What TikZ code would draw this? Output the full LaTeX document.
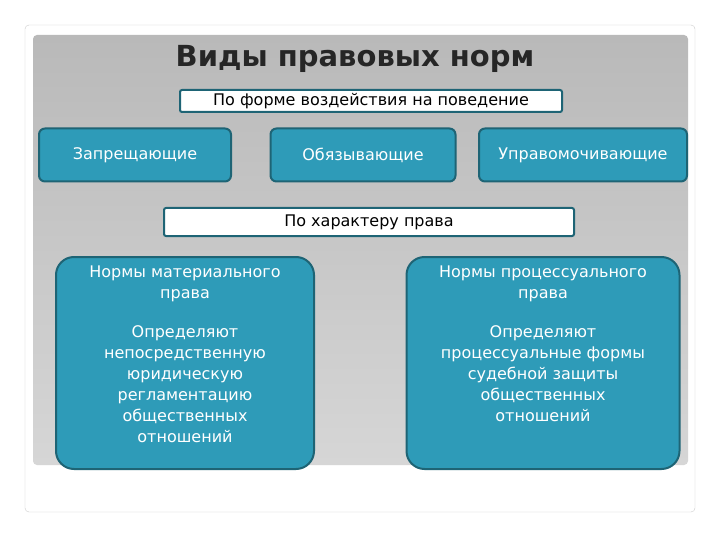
\documentclass[tikz,border=0pt]{standalone}
\usepackage{fontspec}
\setmainfont{DejaVu Sans}
\usetikzlibrary{positioning}
\definecolor{tealbox}{HTML}{2E9BB8}
\definecolor{tealedge}{HTML}{1E6475}
\definecolor{paneltop}{HTML}{B9B9B9}
\definecolor{panelbottom}{HTML}{D6D6D6}
\tikzset{
    kind/.style={draw=tealedge, line width=2pt, fill=tealbox, rounded corners=6pt,
        text=white, font=\fontsize{16}{19}\selectfont, align=center},
    heading/.style={draw=tealedge, line width=2pt, fill=white, rounded corners=2pt,
        font=\fontsize{16}{19}\selectfont},
    bigbox/.style={draw=tealedge, line width=2pt, fill=tealbox, rounded corners=18pt}
}
\begin{document}
\begin{tikzpicture}[x=1pt,y=-1pt]
    % Slide and panel
    \useasboundingbox (0,0) rectangle (720,540);
    \fill[white] (0,0) rectangle (720,540);
    \draw[black!20, rounded corners=4pt] (25,25) rectangle (695,512);
    \shade[top color=paneltop, bottom color=panelbottom, rounded corners=4pt] (33,35) rectangle (688,465);

    % Title
    \node (title) at (355,59) {\fontsize{29}{32}\selectfont\bfseries\color{black!85}Виды правовых норм};

    % By form of influence
    \node[heading, minimum width=382pt, minimum height=22pt, inner sep=1pt] (form) at (371,101) {По форме воздействия на поведение};
    \node[kind, minimum width=192pt, minimum height=53pt] (ban) at (135,155) {Запрещающие};
    \node[kind, minimum width=185pt, minimum height=53pt] (oblige) at (363,155) {Обязывающие};
    \node[kind, minimum width=208pt, minimum height=53pt] (allow) at (583,155) {Управомочивающие};

    % By character of law
    \node[heading, minimum width=410pt, minimum height=28pt] (character) at (369,222) {По характеру права};
    \node[bigbox, minimum width=258pt, minimum height=212pt, anchor=north] (material) at (185,256) {};
    \node[bigbox, minimum width=273pt, minimum height=212pt, anchor=north] (process) at (543,256) {};
    \node[font=\fontsize{16}{21}\selectfont, text=white, align=center, anchor=north] (mattext) at (material.north) [yshift=-6pt]
        {Нормы материального\\права\\[18pt]Определяют\\непосредственную\\юридическую\\регламентацию\\общественных\\отношений};
    \node[font=\fontsize{16}{21}\selectfont, text=white, align=center, anchor=north] (proctext) at (process.north) [yshift=-6pt]
        {Нормы процессуального\\права\\[18pt]Определяют\\процессуальные формы\\судебной защиты\\общественных\\отношений};
\end{tikzpicture}
\end{document}
